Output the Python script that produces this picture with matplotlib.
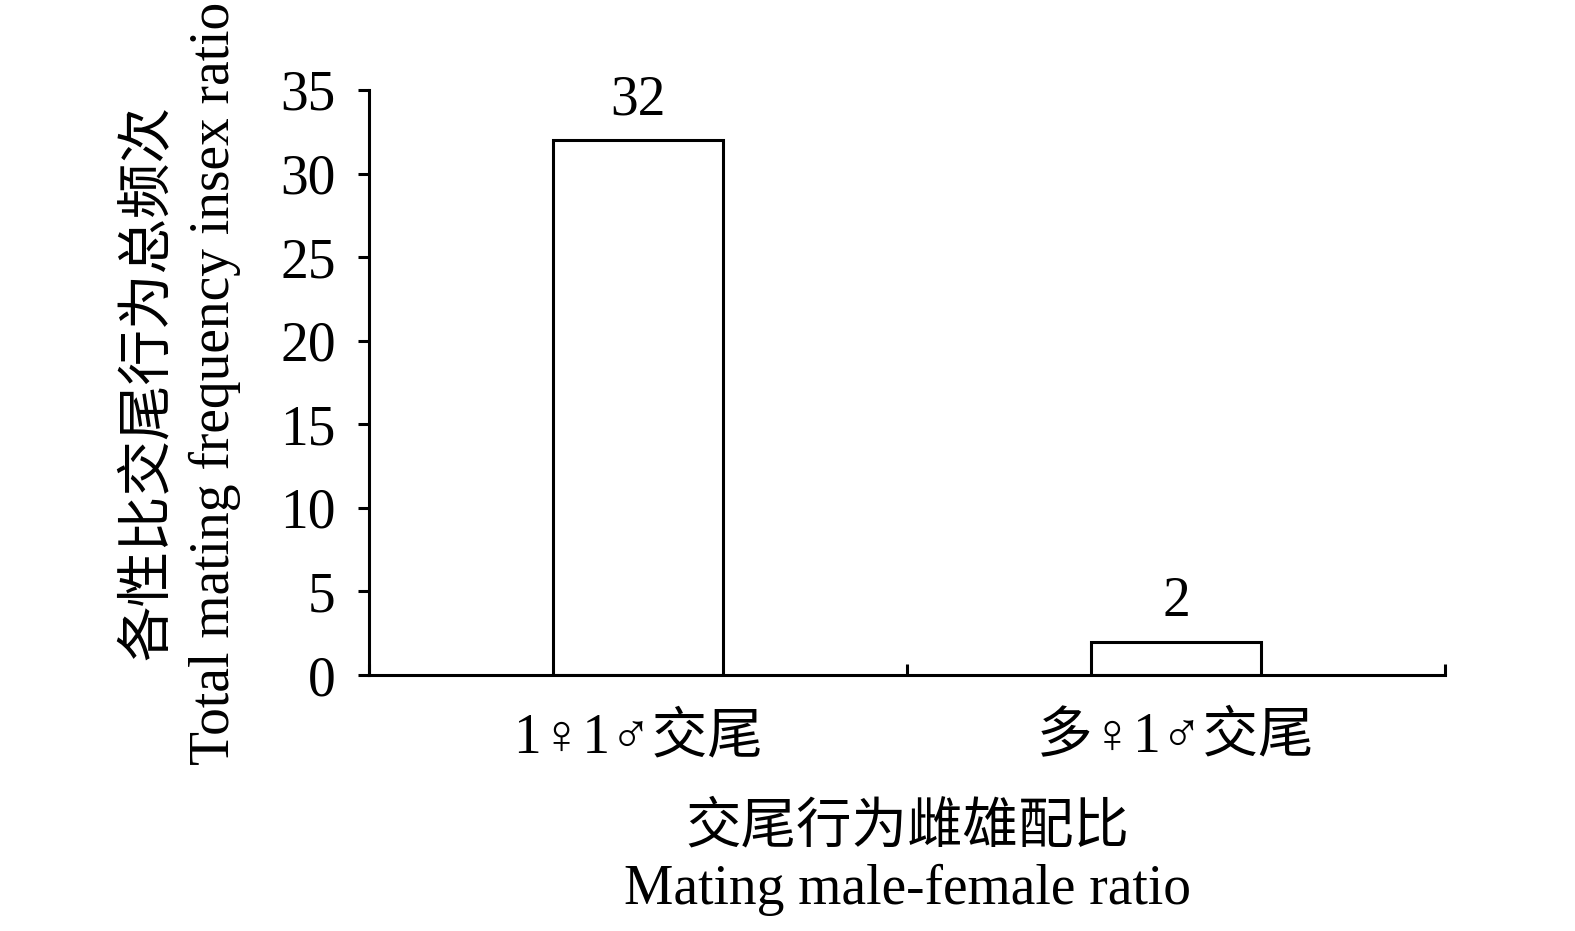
import matplotlib
matplotlib.use('Agg')
import matplotlib.pyplot as plt

plt.rcParams['font.family'] = ['Liberation Serif', 'DejaVu Serif', 'Noto Sans CJK SC']

categories = ['1♀1♂交尾', '多♀1♂交尾']
counts = [32, 2]
yticks = [0, 5, 10, 15, 20, 25, 30, 35]

fig = plt.figure(figsize=(15.75, 9.31), dpi=100)
ax = fig.add_axes([369/1575, 1-675/931, (1445-369)/1575, (675-90)/931])

x = range(len(categories))
bars = ax.bar(x, counts, width=0.315, color='white', edgecolor='black', linewidth=2.2)
for xi, v in zip(x, counts):
    ax.text(xi, v + 0.8, str(v), ha='center', va='bottom', fontsize=40)

ax.set_xlim(-0.5, 1.5)
ax.set_ylim(0, 35)
ax.set_yticks(yticks)
ax.tick_params(axis='y', labelsize=40, width=2.2, length=8, direction='out', pad=16)

# category labels and boundary ticks on x axis
ax.set_xticks([-0.5, 0.5, 1.5])
ax.set_xticklabels([])
ax.tick_params(axis='x', direction='in', length=8, width=2.2)
for xi, lab in zip(x, categories):
    ax.text(xi, -3.8, lab, ha='center', va='center', fontsize=40)

for s in ['top', 'right']:
    ax.spines[s].set_visible(False)
for s in ['left', 'bottom']:
    ax.spines[s].set_linewidth(2.2)

fig.text(907/1575, 1-828/931, '交尾行为雌雄配比', ha='center', va='center', fontsize=40)
fig.text(907/1575, 1-890/931, 'Mating male-female ratio', ha='center', va='center', fontsize=40)
fig.text(150/1575, 1-383/931, '各性比交尾行为总频次', ha='center', va='center', rotation=90, fontsize=40)
fig.text(215/1575, 1-383/931, 'Total mating frequency insex ratio', ha='center', va='center', rotation=90, fontsize=40)

fig.savefig('out.png', dpi=100)
